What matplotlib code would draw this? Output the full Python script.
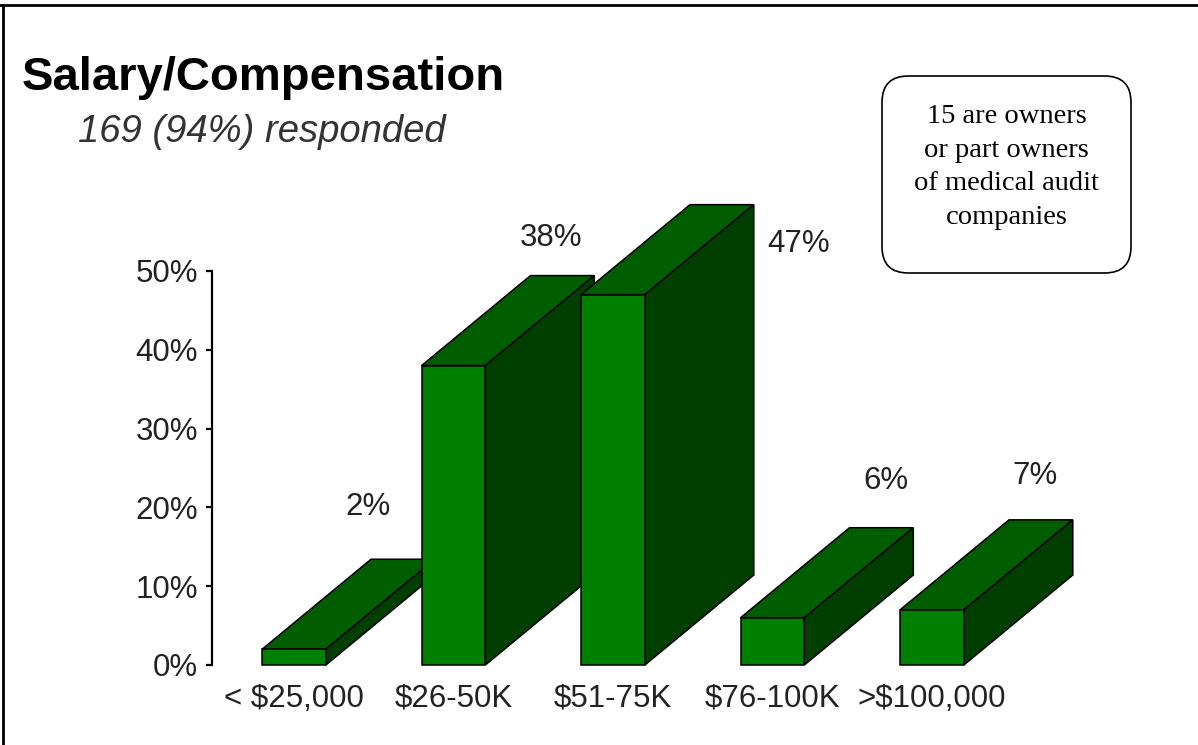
import matplotlib
matplotlib.use('Agg')
import matplotlib.pyplot as plt
from matplotlib.patches import Polygon, FancyBboxPatch
from matplotlib.lines import Line2D

# ---- data ----
categories = ['< $25,000', '$26-50K', '$51-75K', '$76-100K', '>$100,000']
values = [2, 38, 47, 6, 7]
value_labels = ['2%', '38%', '47%', '6%', '7%']
y_ticks = [0, 10, 20, 30, 40, 50]
y_tick_labels = ['0%', '10%', '20%', '30%', '40%', '50%']
title = 'Salary/Compensation'
subtitle = '169 (94%) responded'
note = '15 are owners\nor part owners\nof medical audit\ncompanies'

# ---- layout / style ----
label_dx = [0.467, 0.611, 1.166, 0.71, 0.646]   # label x offset from category
label_dy = [18.1, 16.2, 6.4, 17.3, 17.0]        # label y offset from value
half_w = 0.2          # half width of front face (category units)
depth_x = 0.683       # 3D depth offset in x (category units)
depth_y = 11.42       # 3D depth offset in y (percent units)
c_front = '#007f00'
c_top = '#005e00'
c_side = '#003f00'
txt_color = '#222222'

plt.rcParams['font.family'] = ['Liberation Sans', 'DejaVu Sans']

W, H = 1198, 745
fig = plt.figure(figsize=(W / 100, H / 100), dpi=100)
fig.patch.set_facecolor('white')

ax = fig.add_axes([212 / W, 80 / H, (1150 - 212) / W, 394 / H])
ax.set_xlim(-0.514, 5.367)
ax.set_ylim(0, 50)
ax.patch.set_alpha(0)
for s in ['top', 'right', 'bottom']:
    ax.spines[s].set_visible(False)
ax.spines['left'].set_linewidth(1.6)
ax.spines['left'].set_color('black')

ax.set_yticks(y_ticks)
ax.set_yticklabels(y_tick_labels, fontsize=22.5, color=txt_color)
ax.tick_params(axis='y', length=4.5, width=1.6, pad=5.5, color='black')
ax.set_xticks(range(len(categories)))
ax.set_xticklabels(categories, fontsize=22.5, color=txt_color)
ax.tick_params(axis='x', length=0, pad=13.5)

for i, v in enumerate(values):
    x0, x1 = i - half_w, i + half_w
    z = 3 + i
    top = Polygon([(x0, v), (x1, v), (x1 + depth_x, v + depth_y), (x0 + depth_x, v + depth_y)],
                  closed=True, facecolor=c_top, edgecolor='black', linewidth=1.1,
                  clip_on=False, zorder=z)
    side = Polygon([(x1, 0), (x1 + depth_x, depth_y), (x1 + depth_x, v + depth_y), (x1, v)],
                   closed=True, facecolor=c_side, edgecolor='black', linewidth=1.1,
                   clip_on=False, zorder=z)
    front = Polygon([(x0, 0), (x1, 0), (x1, v), (x0, v)],
                    closed=True, facecolor=c_front, edgecolor='black', linewidth=1.1,
                    clip_on=False, zorder=z)
    ax.add_patch(top)
    ax.add_patch(side)
    ax.add_patch(front)
    ax.text(i + label_dx[i], v + label_dy[i], value_labels[i], fontsize=22.5,
            color=txt_color, ha='center', va='center', clip_on=False, zorder=20)

# title and subtitle
fig.text(22 / W, 1 - 90 / H, title, fontsize=34, fontweight='bold',
         color='black', ha='left', va='baseline')
fig.text(78 / W, 1 - 142 / H, subtitle, fontsize=27.5, style='italic',
         color='#333333', ha='left', va='baseline')

# note box
bx0, bx1, by0, by1 = 882, 1131, 76, 273
box = FancyBboxPatch((bx0 / W, 1 - by1 / H), (bx1 - bx0) / W, (by1 - by0) / H,
                     boxstyle='round,pad=0,rounding_size=0.022',
                     transform=fig.transFigure, facecolor='white', edgecolor='black',
                     linewidth=1.2, mutation_aspect=W / H)
fig.add_artist(box)
fig.text((bx0 + bx1) / 2 / W, 1 - 167 / H, note, fontsize=20.5,
         family=['Liberation Serif', 'DejaVu Serif'], color='black',
         ha='center', va='center', linespacing=1.44, multialignment='center')

# outer frame lines (top and left)
fig.add_artist(Line2D([0, 1], [1 - 5 / H, 1 - 5 / H], transform=fig.transFigure,
                      color='black', linewidth=2.0))
fig.add_artist(Line2D([3 / W, 3 / W], [0, 1 - 5 / H], transform=fig.transFigure,
                      color='black', linewidth=2.0))

fig.savefig('out.png', dpi=100, facecolor='white')
